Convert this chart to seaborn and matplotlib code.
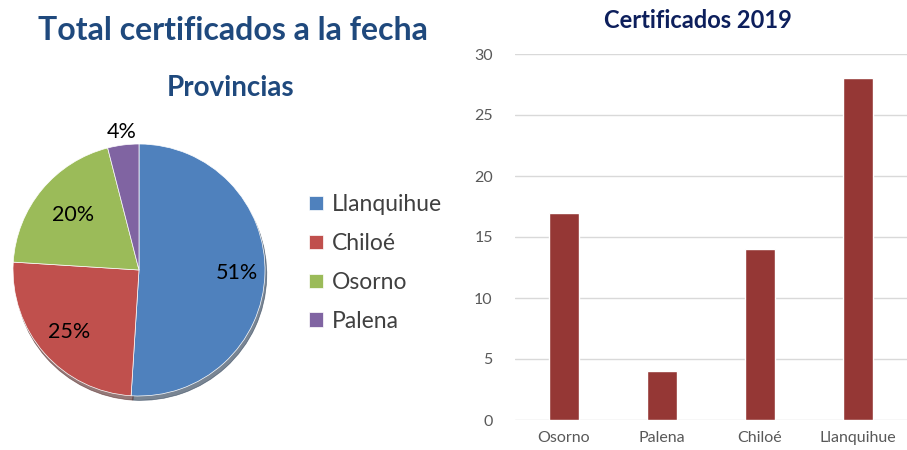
import matplotlib
matplotlib.use("Agg")
import matplotlib.pyplot as plt
import seaborn as sns
import numpy as np
import pandas as pd

# Data
pie_labels = ["Llanquihue", "Chiloé", "Osorno", "Palena"]
pie_values = [51, 25, 20, 4]
pie_colors = ["#4F81BD", "#C0504D", "#9BBB59", "#8064A2"]

bar_categories = ["Osorno", "Palena", "Chiloé", "Llanquihue"]
bar_values = [17, 4, 14, 28]
bar_color = "#953735"

sns.set_theme(style="white")
plt.rcParams['font.family'] = ['Lato', 'DejaVu Sans']

fig = plt.figure(figsize=(9.07, 4.5), dpi=100)

# Titles (left)
fig.text(233/907, 1-31/450, "Total certificados a la fecha", ha="center", va="center",
         fontsize=23, fontweight="bold", color="#1F497D")
fig.text(231/907, 1-88/450, "Provincias", ha="center", va="center",
         fontsize=20, fontweight="bold", color="#1F497D")

# Pie
R = 126
pad = 1.1
axp = fig.add_axes([(139 - R*pad)/907, 1-(270 + R*pad)/450, 2*R*pad/907, 2*R*pad/450])
wedges, texts, autotexts = axp.pie(
    pie_values, colors=pie_colors, startangle=90, counterclock=False,
    autopct=lambda p: f"{p:.0f}%", pctdistance=0.74,
    wedgeprops=dict(linewidth=0.5, edgecolor="white"),
    shadow=dict(ox=0.01, oy=-0.025, shade=0.6, alpha=0.6),
    textprops=dict(fontsize=15.5, color="black"))
axp.set_aspect("equal")
axp.set_xlim(-pad, pad)
axp.set_ylim(-pad, pad)
# label positions tweaked along each wedge's mid-angle
dists = [0.78, 0.74, 0.68, 1.1]
for w, t, d in zip(wedges, autotexts, dists):
    ang = np.deg2rad((w.theta1 + w.theta2) / 2)
    t.set_position((d * np.cos(ang), d * np.sin(ang)))

leg = fig.legend(wedges, pie_labels, loc="upper left", bbox_to_anchor=(300/907, 1-185/450),
                 frameon=False, fontsize=16.5, handlelength=0.6, handleheight=0.6,
                 labelspacing=0.78, handletextpad=0.4, borderaxespad=0,
                 labelcolor="#404040")

# Bar chart
axb = fig.add_axes([515/907, 1-420/450, 392/907, 366/450])
df = pd.DataFrame({"cat": bar_categories, "val": bar_values})
sns.barplot(data=df, x="cat", y="val", color=bar_color, width=0.31, ax=axb,
            saturation=1)
axb.set_ylim(0, 30)
axb.set_yticks(range(0, 31, 5))
axb.set_xlabel("")
axb.set_ylabel("")
axb.yaxis.grid(True, color="#D9D9D9", linewidth=1)
axb.set_axisbelow(True)
for s in axb.spines.values():
    s.set_visible(False)
axb.tick_params(axis="both", colors="#595959", labelsize=11.5, length=0)
axb.tick_params(axis="y", pad=16)
axb.tick_params(axis="x", pad=8)
fig.text(698/907, 1-20/450, "Certificados 2019", ha="center", va="center",
         fontsize=17, fontweight="bold", color="#0D1F5C")

fig.savefig("out.png", dpi=100)
